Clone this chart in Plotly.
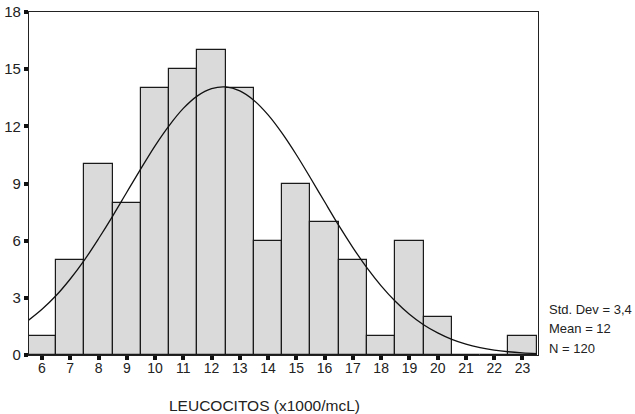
import plotly.graph_objects as go

# Histogram data (bin centres and counts)
bins = [6, 7, 8, 9, 10, 11, 12, 13, 14, 15, 16, 17, 18, 19, 20, 21, 22, 23]
counts = [1, 5, 10, 8, 14, 15, 16, 14, 6, 9, 7, 5, 1, 6, 2, 0, 0, 1]

# Fitted normal curve
curve_x = [5.5, 6, 6.5, 7, 7.5, 8, 8.5, 9, 9.5, 10, 10.5, 11, 11.5, 12, 12.5, 13, 13.5,
           14, 14.5, 15, 15.5, 16, 16.5, 17, 17.5, 18, 18.5, 19, 19.5, 20, 20.5, 21,
           21.5, 22, 22.5, 23, 23.5]
curve_y = [1.80, 2.40, 3.12, 3.99, 4.98, 6.10, 7.29, 8.54, 9.78, 10.98, 12.04, 12.94, 13.60,
           13.98, 14.07, 13.86, 13.36, 12.60, 11.63, 10.51, 9.29, 8.04, 6.80, 5.64, 4.57,
           3.63, 2.82, 2.14, 1.59, 1.16, 0.82, 0.57, 0.39, 0.26, 0.17, 0.11, 0.07]

y_ticks = [0, 3, 6, 9, 12, 15, 18]
stats_lines = ["Std. Dev = 3,4", "Mean = 12", "N = 120"]
x_title = "LEUCOCITOS (x1000/mcL)"

font = "Liberation Sans, Arial, sans-serif"

L, R, T, B = 29, 538, 12, 355

fig = go.Figure()
fig.add_trace(go.Bar(
    x=bins, y=counts, width=1,
    marker=dict(color="#dadada", line=dict(color="#1a1a1a", width=1.2)),
    showlegend=False,
))
fig.add_trace(go.Scatter(
    x=curve_x, y=curve_y, mode="lines", line=dict(color="#111111", width=1.3, shape="spline"),
    showlegend=False, cliponaxis=True,
))

fig.update_layout(
    width=635, height=414,
    margin=dict(l=L, r=635 - R, t=T, b=414 - B),
    paper_bgcolor="white", plot_bgcolor="white",
    font=dict(family=font, size=13, color="#222222"),
    bargap=0,
    xaxis=dict(
        range=[5.54, 23.55], tickvals=bins, ticktext=[str(b) for b in bins],
        showline=True, linecolor="#222222", linewidth=1.2, mirror=True,
        ticks="outside", ticklen=4, tickwidth=4, tickcolor="#111111",
        showgrid=False, zeroline=False, tickfont=dict(size=14), automargin=False,
        ticklabelstandoff=-4,
    ),
    yaxis=dict(
        range=[0, 18], tickvals=y_ticks,
        showline=True, linecolor="#222222", linewidth=1.2, mirror=True,
        ticks="outside", ticklen=4, tickwidth=4, tickcolor="#111111",
        showgrid=False, zeroline=False, tickfont=dict(size=15), automargin=False,
    ),
)

fig.add_annotation(
    xref="x domain", yref="y domain",
    x=(264 - L) / (R - L), y=-(405 - B) / (B - T),
    xanchor="center", yanchor="middle",
    text=x_title, showarrow=False, font=dict(size=15.5, color="#222222"),
)

for i, line in enumerate(stats_lines):
    fig.add_annotation(
        xref="x domain", yref="y domain",
        x=(547 - L) / (R - L), y=(B - (309 + 19.5 * i)) / (B - T),
        text=line, showarrow=False, xanchor="left", yanchor="middle",
        font=dict(size=13, color="#222222"),
    )

fig.write_html("out.html")
